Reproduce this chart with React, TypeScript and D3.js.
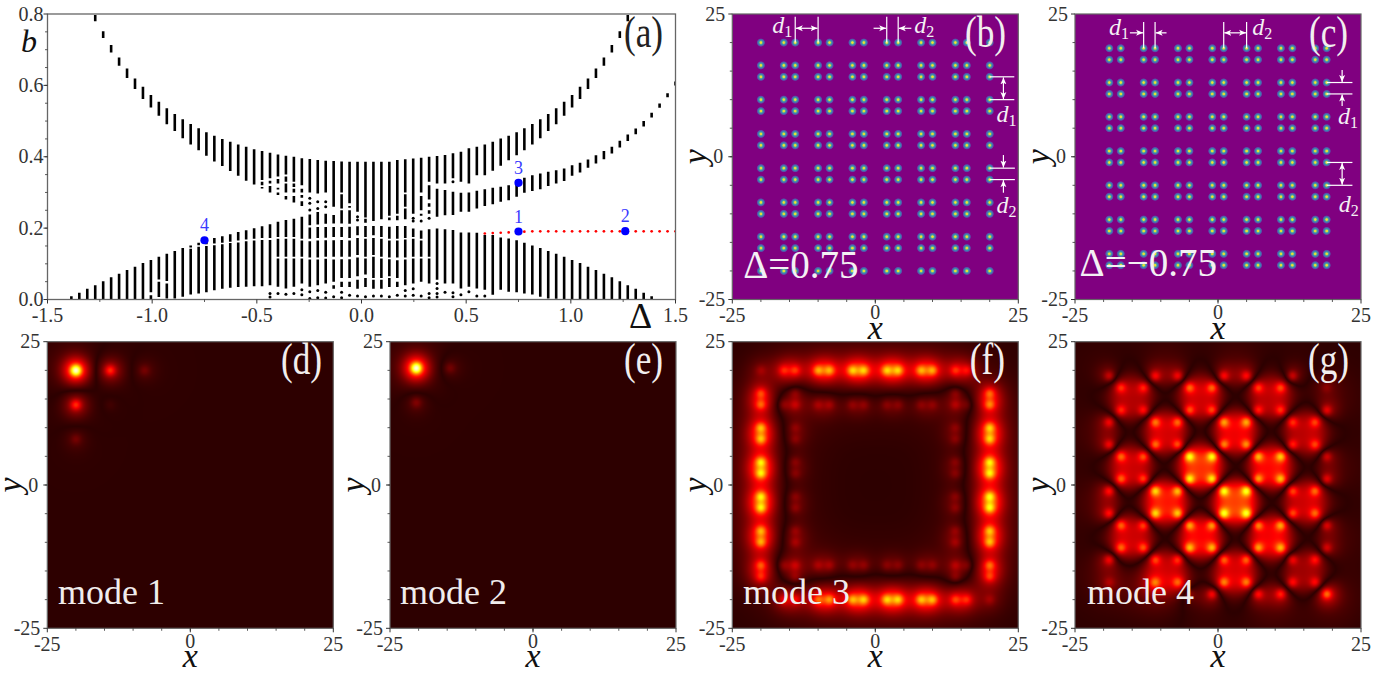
import { useMemo } from 'react'
import { scaleLinear, range } from 'd3'

// ---- panel (a): spectrum, one entry per sampled detuning ----
const deltas = [
  -1.5, -1.462, -1.424, -1.386, -1.348, -1.31, -1.272, -1.234, -1.196, -1.158,
  -1.12, -1.082, -1.044, -1.006, -0.968, -0.93, -0.892, -0.854, -0.816, -0.778,
  -0.741, -0.703, -0.665, -0.627, -0.589, -0.551, -0.513, -0.475, -0.437, -0.399,
  -0.361, -0.323, -0.285, -0.247, -0.209, -0.171, -0.133, -0.095, -0.057, -0.019,
  0.019, 0.057, 0.095, 0.133, 0.171, 0.209, 0.247, 0.285, 0.323, 0.361,
  0.399, 0.437, 0.475, 0.513, 0.551, 0.589, 0.627, 0.665, 0.703, 0.741,
  0.778, 0.816, 0.854, 0.892, 0.93, 0.968, 1.006, 1.044, 1.082, 1.12,
  1.158, 1.196, 1.234, 1.272, 1.31, 1.348, 1.386, 1.424, 1.462, 1.5,
]

// b ranges [low, high] in each column, a single number is one isolated level
type Seg = number[] | number
const bandSegments: Seg[][] = [
  [], [], [],
  [[0, 0.009]],
  [[0, 0.019]],
  [[0, 0.03]],
  [[0, 0.04], [0.78, 0.797]],
  [[0, 0.051], [0.733, 0.752]],
  [[0, 0.062], [0.692, 0.713]],
  [[0, 0.072], [0.655, 0.678]],
  [[0, 0.083], [0.621, 0.647]],
  [[0, 0.092], [0.59, 0.619]],
  [[0, 0.102], [0.562, 0.596]],
  [[0, 0.012], [0.02, 0.111], [0.538, 0.573]],
  [[0.007, 0.05], [0.056, 0.12], [0.515, 0.554]],
  [[0.003, 0.045], [0.052, 0.128], [0.491, 0.536]],
  [[0.003, 0.136], [0.472, 0.52]],
  [[0.008, 0.144], [0.452, 0.505]],
  [[0.014, 0.142], [0.146, 0.151], [0.434, 0.492]],
  [[0.017, 0.148], [0.152, 0.159], [0.418, 0.48]],
  [[0.02, 0.15], [0.155, 0.166], [0.403, 0.469]],
  [[0.026, 0.152], [0.157, 0.172], [0.387, 0.459]],
  [[0.03, 0.155], [0.159, 0.177], [0.374, 0.45]],
  [[0.033, 0.158], [0.162, 0.183], [0.36, 0.442]],
  [[0.035, 0.16], [0.165, 0.189], [0.347, 0.434]],
  [[0.036, 0.163], [0.168, 0.194], [0.333, 0.428]],
  [[0.037, 0.165], [0.17, 0.2], [0.322, 0.421]],
  [[0.037, 0.167], [0.172, 0.205], [0.335, 0.416], [0.32, 0.33], [0.311, 0.315]],
  [0.007, 0.017, [0.04, 0.167], [0.172, 0.211], [0.34, 0.411], [0.325, 0.333], [0.3, 0.318]],
  [0.017, [0.036, 0.115], [0.12, 0.17], [0.175, 0.218], [0.345, 0.406], [0.325, 0.338], [0.308, 0.313], [0.293, 0.3]],
  [0.015, [0.031, 0.115], [0.12, 0.17], [0.175, 0.223], [0.35, 0.403], [0.33, 0.345], [0.3, 0.325], [0.28, 0.29]],
  [0.017, [0.036, 0.115], [0.12, 0.17], [0.175, 0.226], [0.33, 0.4], [0.315, 0.325], [0.3, 0.31], [0.272, 0.29]],
  [0.013, 0.027, [0.045, 0.115], [0.12, 0.165], [0.17, 0.232], [0.32, 0.396], [0.3, 0.31], [0.285, 0.293], [0.262, 0.275]],
  [0.003, 0.022, [0.036, 0.112], [0.118, 0.163], [0.17, 0.202], [0.208, 0.238], 0.251, 0.27, 0.284, [0.3, 0.394]],
  [0.005, 0.025, [0.04, 0.112], [0.118, 0.165], [0.172, 0.203], [0.21, 0.245], 0.255, 0.274, [0.297, 0.391]],
  [0.004, 0.02, [0.045, 0.114], [0.12, 0.166], [0.173, 0.203], [0.212, 0.24], 0.26, 0.274, [0.3, 0.389]],
  [0.008, [0.03, 0.04], [0.05, 0.112], [0.12, 0.166], [0.175, 0.203], [0.213, 0.237], [0.26, 0.388]],
  [0.005, 0.02, [0.035, 0.05], [0.06, 0.113], [0.12, 0.167], [0.175, 0.203], [0.213, 0.25], [0.255, 0.295], [0.3, 0.387]],
  [0.012, [0.035, 0.05], [0.06, 0.113], [0.12, 0.165], [0.172, 0.204], [0.212, 0.25], [0.257, 0.262], [0.27, 0.386]],
  [0.01, [0.03, 0.055], [0.065, 0.118], [0.125, 0.172], [0.18, 0.205], 0.223, 0.232, [0.246, 0.386]],
  [0.008, [0.035, 0.06], [0.07, 0.115], [0.12, 0.17], [0.175, 0.206], [0.215, 0.226], [0.23, 0.386]],
  [0.01, [0.03, 0.055], [0.06, 0.12], [0.125, 0.172], [0.18, 0.206], [0.22, 0.386]],
  [0.01, [0.03, 0.055], [0.06, 0.115], [0.12, 0.17], [0.175, 0.206], [0.225, 0.386]],
  [0.008, [0.035, 0.06], [0.065, 0.113], [0.118, 0.165], [0.17, 0.204], [0.222, 0.23], [0.235, 0.386]],
  [0.012, [0.035, 0.05], [0.06, 0.11], [0.118, 0.165], [0.17, 0.206], [0.222, 0.235], [0.24, 0.391]],
  [0.01, 0.025, [0.04, 0.112], [0.118, 0.168], [0.172, 0.206], [0.225, 0.255], [0.26, 0.295], [0.3, 0.393]],
  [0.012, 0.03, [0.045, 0.115], [0.12, 0.17], [0.175, 0.199], 0.22, 0.228, [0.24, 0.395]],
  [0.01, [0.05, 0.115], [0.12, 0.165], [0.17, 0.193], 0.22, [0.235, 0.24], [0.25, 0.29], [0.3, 0.397]],
  [0.005, 0.017, [0.045, 0.115], [0.12, 0.197], 0.228, [0.24, 0.25], [0.26, 0.27], [0.28, 0.32], [0.33, 0.4]],
  [0.007, 0.017, 0.031, 0.045, [0.055, 0.199], [0.232, 0.31], [0.325, 0.402]],
  [0.02, [0.045, 0.197], [0.236, 0.307], [0.325, 0.405]],
  [0.008, 0.019, [0.045, 0.195], [0.237, 0.302], 0.33, [0.34, 0.41]],
  [0.013, [0.031, 0.188], [0.246, 0.299], [0.33, 0.414]],
  [0.022, [0.036, 0.188], [0.246, 0.3], [0.325, 0.424]],
  [0.01, [0.031, 0.187], [0.255, 0.305], [0.348, 0.428]],
  [0.01, [0.027, 0.181], [0.262, 0.309], [0.348, 0.434]],
  [[0.013, 0.181], [0.267, 0.313], [0.361, 0.442]],
  [[0.027, 0.174], [0.274, 0.316], [0.375, 0.451]],
  [[0.022, 0.171], [0.278, 0.32], [0.39, 0.459]],
  [[0.02, 0.166], [0.288, 0.334], [0.404, 0.469]],
  [[0.017, 0.159], [0.299, 0.341], [0.418, 0.48]],
  [[0.014, 0.151], [0.304, 0.348], [0.434, 0.492]],
  [[0.008, 0.144], [0.309, 0.353], [0.452, 0.505]],
  [[0.003, 0.136], [0.318, 0.358], [0.472, 0.52]],
  [[0.002, 0.128], [0.325, 0.362], [0.491, 0.536]],
  [[0, 0.12], [0.332, 0.367], [0.515, 0.554]],
  [[0, 0.111], [0.347, 0.376], [0.538, 0.573]],
  [[0, 0.102], [0.356, 0.383], [0.562, 0.596]],
  [[0, 0.092], [0.369, 0.392], [0.59, 0.619]],
  [[0, 0.083], [0.381, 0.404], [0.621, 0.647]],
  [[0, 0.072], [0.393, 0.416], [0.655, 0.678]],
  [[0, 0.062], [0.409, 0.428], [0.692, 0.713]],
  [[0, 0.051], [0.426, 0.445], [0.733, 0.752]],
  [[0, 0.04], [0.444, 0.462], [0.78, 0.797]],
  [[0, 0.03], [0.463, 0.479]],
  [[0, 0.019], [0.485, 0.5]],
  [[0, 0.009], [0.51, 0.523]],
  [[0.537, 0.549]],
  [[0.567, 0.578]],
  [[0.6, 0.611]],
]

const edgeDeltas = deltas.slice(55)
const edgeValues = [
  0.185, 0.186, 0.187, 0.188, 0.189, 0.19, 0.191, 0.191, 0.191, 0.191, 0.191, 0.191, 0.191,
  0.191, 0.191, 0.191, 0.191, 0.191, 0.191, 0.191, 0.191, 0.191, 0.191, 0.191, 0.191,
]

const modeDeltas = [0.75, 1.26, 0.75, -0.75]
const modeValues = [0.1905, 0.1915, 0.327, 0.166]
const modeNames = ['1', '2', '3', '4']

// ---- panels (b), (c): well positions ----
const wellsB = [-20, -16, -14, -10, -8, -4, -2, 2, 4, 8, 10, 14, 16, 20]
const wellsC = [-19, -17, -13, -11, -7, -5, -1, 1, 5, 7, 11, 13, 17, 19]

// ---- panels (d)-(g): mode amplitudes read at the wells ----
const mode1X = [-20, -14, -8, -20, -20, -14]
const mode1Y = [20, 20, 20, 14, 8, 14]
const mode1Amp = [1, -0.42, 0.12, -0.42, 0.12, 0.04]

const mode2X = [-20.4, -14.5, -20.4]
const mode2Y = [20.4, 20.4, 14.4]
const mode2Amp = [1, -0.13, -0.15]

const edgeWells = [-16, -14, -10, -8, -4, -2, 2, 4, 8, 10, 14, 16]
const mode3Top = [0.3, 0.32, 0.46, 0.46, 0.5, 0.5, 0.5, 0.5, 0.46, 0.46, 0.32, 0.26]
const mode3Bottom = [0.24, 0.26, 0.38, 0.44, 0.46, 0.5, 0.5, 0.5, 0.48, 0.48, 0.34, 0.3]
const mode3Left = [0.34, 0.38, 0.48, 0.48, 0.54, 0.54, 0.54, 0.54, 0.46, 0.46, 0.38, 0.3]
const mode3Right = [0.38, 0.42, 0.5, 0.5, 0.54, 0.54, 0.56, 0.56, 0.48, 0.48, 0.4, 0.32]
const mode3Corner = [0.14, 0.14]
const innerWells = [-14, -10, -8, -4, -2, 2, 4, 8, 10, 14]
const mode3InnerTop = [-0.2, -0.16, -0.16, -0.14, -0.14, -0.13, -0.13, -0.13, -0.13, -0.18]
const mode3InnerSide = [-0.16, -0.14, -0.14, -0.13, -0.13, -0.13, -0.13, -0.13, -0.13, -0.16]

const blockX = [-15, -3, 9, -9, 3, 15, -15, -3, 9, -9, 3, 15, -15, -3, 9, -9, 3, 15]
const blockY = [15, 15, 15, 9, 9, 9, 3, 3, 3, -3, -3, -3, -9, -9, -9, -15, -15, -15]
const blockAmp = [
  0.44, 0.54, 0.48, -0.58, -0.66, -0.48, 0.54, 0.82, 0.7, -0.74, -0.86, -0.54, 0.54, 0.7, 0.66, -0.5, -0.58, -0.42,
]
const loneX = [-19, -11, -7, 1, 5, 13, -19, -19, -19, -19, -19, -19, 19, 19, 19, 19, 19, 19, 19, -1, -5, 7, 11, 19]
const loneY = [19, 19, 19, 19, 19, 19, 11, 7, -1, -5, -13, -17, 17, 13, 5, 1, -7, -11, -19, -19, -19, -19, -19, -19]
const loneAmp = [
  -0.36, -0.44, -0.44, -0.46, -0.46, -0.38, -0.42, -0.44, -0.48, -0.48, -0.44, -0.2, 0.15, 0.42, 0.36, 0.42, 0.4, 0.36, 0.32, 0.48, 0.25, 0.48, 0.48, 0.32,
]

// core, shoulder and wide tail weights of one well
const narrowProfile = [0.52, 0.41, 0.07]
const wideProfile = [0.44, 0.34, 0.14]

// ---- layout ----
const width = 1400
const height = 675
const mainPanel = { left: 47.5, right: 675.5, top: 14, bottom: 299.5 }
const serif = '"Liberation Serif", serif'
const tickColor = '#333'
const frameColor = '#666'
const field = [-25, 25]
const fieldMinor = range(-20, 21, 5)

const hot = scaleLinear<string>()
  .domain([0, 0.33, 0.72, 1])
  .range(['#2d0000', '#ff0000', '#ffff00', '#ffffe8'])
  .clamp(true)

type Site = [number, number, number]

function zip(xs: number[], ys: number[], amps: number[]): Site[] {
  return xs.map((x, i) => [x, ys[i], amps[i]])
}

const mode1Sites = zip(mode1X, mode1Y, mode1Amp)
const mode2Sites = zip(mode2X, mode2Y, mode2Amp)
const mode3Sites: Site[] = [
  ...edgeWells.map((w, i): Site => [w, 20, mode3Top[i]]),
  ...edgeWells.map((w, i): Site => [w, -20, mode3Bottom[i]]),
  ...edgeWells.map((w, i): Site => [-20, -w, mode3Left[i]]),
  ...edgeWells.map((w, i): Site => [20, -w, mode3Right[i]]),
  [-20, 20, mode3Corner[0]],
  [20, -20, mode3Corner[1]],
  ...innerWells.map((w, i): Site => [w, 14, mode3InnerTop[i]]),
  ...innerWells.map((w, i): Site => [w, -14, mode3InnerTop[i]]),
  ...innerWells.slice(1, -1).map((w, i): Site => [-14, w, mode3InnerSide[i]]),
  ...innerWells.slice(1, -1).map((w, i): Site => [14, w, mode3InnerSide[i]]),
  [-16, 14, -0.14], [-14, 16, -0.14], [14, 16, -0.14], [16, 14, -0.1],
  [-16, -14, -0.14], [-14, -16, -0.14], [14, -16, -0.14], [16, -14, -0.12],
]
const mode4Sites: Site[] = [
  ...blockX.flatMap((cx, i) =>
    [[-2, 2], [2, 2], [-2, -2], [2, -2]].map(([dx, dy]): Site => [cx + dx, blockY[i] + dy, blockAmp[i]])
  ),
  ...zip(loneX, loneY, loneAmp),
]

function renderMode(sites: Site[], profile: number[], size: number) {
  const canvas = document.createElement('canvas')
  canvas.width = size
  canvas.height = size
  const ctx = canvas.getContext('2d')!
  const img = ctx.createImageData(size, size)
  const toData = scaleLinear().domain([0, size]).range(field)
  const palette = range(0, 1025).map(i => {
    const m = hot(i / 1024).match(/\d+/g)!
    return [+m[0], +m[1], +m[2]]
  })
  for (let py = 0; py < size; py++) {
    const y = -toData(py + 0.5)
    for (let px = 0; px < size; px++) {
      const x = toData(px + 0.5)
      let v = 0
      for (const [sx, sy, a] of sites) {
        const r2 = (x - sx) * (x - sx) + (y - sy) * (y - sy)
        if (r2 > 220) continue
        v += a * (profile[0] * Math.exp(-r2 / 0.8) + profile[1] * Math.exp(-r2 / 5) + profile[2] * Math.exp(-r2 / 30))
      }
      const c = palette[Math.min(1024, Math.round(Math.abs(v) * 1024))]
      const o = (py * size + px) * 4
      img.data[o] = c[0]
      img.data[o + 1] = c[1]
      img.data[o + 2] = c[2]
      img.data[o + 3] = 255
    }
  }
  ctx.putImageData(img, 0, 0)
  return canvas.toDataURL()
}

function FieldAxes({ x0, y0, x1, y1 }: { x0: number; y0: number; x1: number; y1: number }) {
  const xs = scaleLinear().domain(field).range([x0, x1])
  const ys = scaleLinear().domain(field).range([y1, y0])
  return (
    <g fontFamily={serif}>
      <rect x={x0} y={y0} width={x1 - x0} height={y1 - y0} fill="none" stroke={frameColor} strokeWidth={1.2} />
      {fieldMinor.map(t => (
        <g key={t} stroke={tickColor} strokeWidth={0.8}>
          <line x1={xs(t)} x2={xs(t)} y1={y1} y2={y1 + 2.5} />
          <line x1={x0 - 2.5} x2={x0} y1={ys(t)} y2={ys(t)} />
        </g>
      ))}
      {[-25, 0, 25].map(t => (
        <g key={t} fill={tickColor} fontSize={20}>
          <line x1={xs(t)} x2={xs(t)} y1={y1} y2={y1 + 4} stroke={tickColor} />
          <line x1={x0 - 4} x2={x0} y1={ys(t)} y2={ys(t)} stroke={tickColor} />
          <text x={xs(t)} y={y1 + (t === 0 ? 19.5 : 22.5)} textAnchor="middle">{t}</text>
          <text x={x0 - (t === 0 ? 9 : 7)} y={ys(t) + 6.5} textAnchor="end">{t}</text>
        </g>
      ))}
      <text x={(x0 + x1) / 2} y={y1 + 39} textAnchor="middle" fontSize={34} fontStyle="italic" fill="#111">x</text>
      <text transform={`translate(${x0 - 26},${(y0 + y1) / 2}) rotate(-90)`} textAnchor="middle" fontSize={34} fontStyle="italic" fill="#111">y</text>
    </g>
  )
}

function PanelTag({ right, baseline, text, fill = '#f2eeee' }: { right: number; baseline: number; text: string; fill?: string }) {
  return (
    <text transform={`translate(${right},${baseline}) scale(0.8,1)`} textAnchor="end" fontFamily={serif} fontSize={44} fill={fill}>{text}</text>
  )
}

function Spectrum() {
  const { left, right, top, bottom } = mainPanel
  const x = scaleLinear().domain([-1.5, 1.5]).range([left, right])
  const y = scaleLinear().domain([0, 0.8]).range([bottom, top])
  const xMajor = [-1.5, -1, -0.5, 0, 0.5, 1, 1.5]
  const xMinor = [-1.25, -0.75, -0.25, 0.25, 0.75, 1.25]
  const yMajor = [0, 0.2, 0.4, 0.6, 0.8]
  const yMinor = range(0.05, 0.8, 0.05)
  return (
    <g fontFamily={serif}>
      <clipPath id="spectrum-clip">
        <rect x={left} y={top} width={right - left} height={bottom - top} />
      </clipPath>
      <g clipPath="url(#spectrum-clip)">
        {bandSegments.map((segs, k) =>
          segs.map((s, j) =>
            typeof s === 'number' ? (
              <circle key={`${k}-${j}`} cx={x(deltas[k])} cy={y(s)} r={1.5} fill="#000" />
            ) : (
              <line key={`${k}-${j}`} x1={x(deltas[k])} x2={x(deltas[k])} y1={y(s[0])} y2={y(s[1])} stroke="#000" strokeWidth={2.6} />
            )
          )
        )}
        {edgeDeltas.map((d, i) => (
          <circle key={d} cx={x(d)} cy={y(edgeValues[i])} r={1.35} fill="#f00" />
        ))}
      </g>
      <rect x={left} y={top} width={right - left} height={bottom - top} fill="none" stroke={frameColor} strokeWidth={1.3} />
      {xMinor.map(t => <line key={t} x1={x(t)} x2={x(t)} y1={bottom} y2={bottom + 2.5} stroke={tickColor} strokeWidth={0.8} />)}
      {yMinor.map(t => <line key={t} x1={left - 2.5} x2={left} y1={y(t)} y2={y(t)} stroke={tickColor} strokeWidth={0.8} />)}
      {xMajor.map(t => (
        <g key={t}>
          <line x1={x(t)} x2={x(t)} y1={bottom} y2={bottom + 4} stroke={tickColor} />
          <text x={x(t)} y={bottom + 22.5} textAnchor="middle" fontSize={20} fill={tickColor}>{t.toFixed(1)}</text>
        </g>
      ))}
      {yMajor.map(t => (
        <g key={t}>
          <line x1={left - 4} x2={left} y1={y(t)} y2={y(t)} stroke={tickColor} />
          <text x={left - 4} y={y(t) + 6.5} textAnchor="end" fontSize={20} fill={tickColor}>{t.toFixed(1)}</text>
        </g>
      ))}
      {modeDeltas.map((d, i) => (
        <g key={modeNames[i]}>
          <circle cx={x(d)} cy={y(modeValues[i])} r={4.1} fill="#0000ff" />
          <text x={x(d)} y={y(modeValues[i]) - 9} textAnchor="middle" fontSize={18} fill="#3a3aff">{modeNames[i]}</text>
        </g>
      ))}
      <text x={21} y={52} fontSize={32} fontStyle="italic" fill="#111">b</text>
      <text x={629} y={328} fontSize={36} fill="#111">Δ</text>
      <PanelTag right={663} baseline={47} text="(a)" fill="#222" />
    </g>
  )
}

type Seglet = [number, number, number, number]

function Lattice({ id, x0, wells, lines, doubleArrows, arrows, labels, note, noteAt, noteSize, tag, tagRight }: {
  id: string
  x0: number
  wells: number[]
  lines: Seglet[]
  doubleArrows: Seglet[]
  arrows: Seglet[]
  labels: [number, number, string, string][]
  note: string
  noteAt: number[]
  noteSize: number
  tag: string
  tagRight: number
}) {
  const { top, bottom } = mainPanel
  const x1 = x0 + 286
  const xs = scaleLinear().domain(field).range([x0, x1])
  const ys = scaleLinear().domain(field).range([bottom, top])
  return (
    <g>
      <defs>
        <radialGradient id={`well-${id}`}>
          <stop offset="0" stopColor="#f5e62a" />
          <stop offset="0.22" stopColor="#e0dc3a" />
          <stop offset="0.36" stopColor="#5fb08f" />
          <stop offset="0.55" stopColor="#3c86b0" />
          <stop offset="0.8" stopColor="#5a4ca8" />
          <stop offset="1" stopColor="#800080" />
        </radialGradient>
        <marker id={`tip-${id}`} viewBox="0 0 8 8" refX="8" refY="4" markerWidth="7" markerHeight="7" markerUnits="userSpaceOnUse" orient="auto-start-reverse">
          <path d="M0 0.6 L8 4 L0 7.4 L2 4 Z" fill="#fff" />
        </marker>
      </defs>
      <rect x={x0} y={top} width={x1 - x0} height={bottom - top} fill="#800080" />
      {wells.flatMap(wx =>
        wells.map(wy => (
          <circle key={`${wx}/${wy}`} cx={xs(wx)} cy={ys(wy)} r={4.4} fill={`url(#well-${id})`} />
        ))
      )}
      <g stroke="#fff" strokeWidth={1.2}>
        {lines.map((l, i) => (
          <line key={i} x1={xs(l[0])} y1={ys(l[1])} x2={xs(l[2])} y2={ys(l[3])} />
        ))}
        {doubleArrows.map((l, i) => (
          <line key={i} x1={xs(l[0])} y1={ys(l[1])} x2={xs(l[2])} y2={ys(l[3])} markerStart={`url(#tip-${id})`} markerEnd={`url(#tip-${id})`} />
        ))}
        {arrows.map((l, i) => (
          <line key={i} x1={xs(l[0])} y1={ys(l[1])} x2={xs(l[2])} y2={ys(l[3])} markerEnd={`url(#tip-${id})`} />
        ))}
      </g>
      <g fontFamily={serif} fill="#f4f0f4">
        {labels.map(([lx, ly, name, sub], i) => (
          <text key={i} x={xs(lx)} y={ys(ly)} fontSize={24}>
            <tspan fontStyle="italic">{name}</tspan>
            <tspan fontSize={16} dy={4}>{sub}</tspan>
          </text>
        ))}
        <text x={xs(noteAt[0])} y={ys(noteAt[1])} fontSize={noteSize}>{note}</text>
      </g>
      <FieldAxes x0={x0} y0={top} x1={x1} y1={bottom} />
      <PanelTag right={tagRight} baseline={47} text={tag} />
    </g>
  )
}

function ModePanel({ x0, sites, profile, name, nameX, tag, tagRight }: {
  x0: number
  sites: Site[]
  profile: number[]
  name: string
  nameX: number
  tag: string
  tagRight: number
}) {
  const y0 = 341.7
  const y1 = 628.3
  const x1 = x0 + 286
  const href = useMemo(() => renderMode(sites, profile, 286), [sites, profile])
  return (
    <g>
      <image href={href} x={x0} y={y0} width={x1 - x0} height={y1 - y0} preserveAspectRatio="none" />
      <FieldAxes x0={x0} y0={y0} x1={x1} y1={y1} />
      <text x={nameX} y={604} fontFamily={serif} fontSize={36} fill="#f0ecec">{name}</text>
      <PanelTag right={tagRight} baseline={374} text={tag} />
    </g>
  )
}

function App() {
  return (
    <svg width={width} height={height} style={{ position: 'absolute', left: 0, top: 0, display: 'block', background: '#fff' }}>
      <Spectrum />
      <Lattice
        id="b"
        x0={732.3}
        wells={wellsB}
        lines={[[-14, 24.5, -14, 20], [-10, 24.5, -10, 20], [2, 24.5, 2, 20], [4, 24.5, 4, 20], [20, 14, 24.3, 14], [20, 10, 24.3, 10], [20, -2, 24.4, -2], [20, -4, 24.4, -4]]}
        doubleArrows={[[-13.9, 22.5, -10.1, 22.5], [22.4, 13.9, 22.4, 10.1]]}
        arrows={[[-0.3, 22.5, 1.9, 22.5], [6.3, 22.5, 4.1, 22.5], [22.4, 0.3, 22.4, -1.9], [22.4, -6.3, 22.4, -4.1]]}
        labels={[[-18, 21.7, 'd', '1'], [6.8, 21.7, 'd', '2'], [21.2, 6.1, 'd', '1'], [21.2, -9.9, 'd', '2']]}
        note="Δ=0.75"
        noteAt={[-23.1, -21.3]}
        noteSize={39}
        tag="(b)"
        tagRight={1006}
      />
      <Lattice
        id="c"
        x0={1075}
        wells={wellsC}
        lines={[[-13, 23.6, -13, 19], [-11, 23.6, -11, 19], [1, 23.6, 1, 19], [5, 23.6, 5, 19], [19, 13, 23.5, 13], [19, 11, 23.5, 11], [19, -1, 23.5, -1], [19, -5, 23.5, -5]]}
        doubleArrows={[[1.1, 21.7, 4.9, 21.7], [21.7, -1.1, 21.7, -4.9]]}
        arrows={[[-15.4, 21.7, -13.1, 21.7], [-9, 21.7, -10.9, 21.7], [21.7, 15.2, 21.7, 13.1], [21.7, 8.9, 21.7, 10.9]]}
        labels={[[-19.05, 21.4, 'd', '1'], [6, 21.4, 'd', '2'], [21, 5.7, 'd', '1'], [21.1, -9.6, 'd', '2']]}
        note="Δ=−0.75"
        noteAt={[-24.2, -20.9]}
        noteSize={39}
        tag="(c)"
        tagRight={1348}
      />
      <ModePanel x0={47.3} sites={mode1Sites} profile={narrowProfile} name="mode 1" nameX={58} tag="(d)" tagRight={322} />
      <ModePanel x0={390} sites={mode2Sites} profile={narrowProfile} name="mode 2" nameX={400} tag="(e)" tagRight={663} />
      <ModePanel x0={732.3} sites={mode3Sites} profile={narrowProfile} name="mode 3" nameX={743} tag="(f)" tagRight={1005} />
      <ModePanel x0={1075} sites={mode4Sites} profile={wideProfile} name="mode 4" nameX={1087} tag="(g)" tagRight={1349} />
    </svg>
  )
}

export default App
